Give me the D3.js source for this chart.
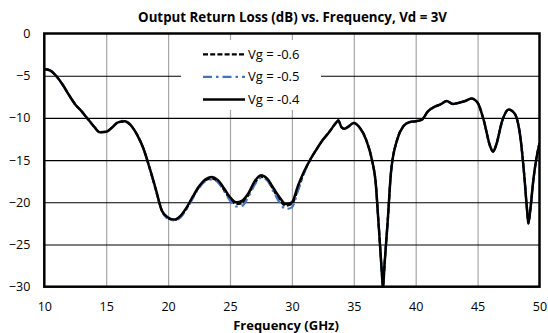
<!DOCTYPE html>
<html>
<head>
<meta charset="utf-8">
<script src="https://cdn.jsdelivr.net/npm/d3@7"></script>
<style>
body { margin: 0; background: #fff; }
text { font-family: "Open Sans", "Liberation Sans", sans-serif; fill: #000; }
</style>
</head>
<body>
<div id="canvas"></div>
<script>
// frequency points (GHz)
const freq = [10, 10.5, 11, 11.5, 12, 12.5, 13, 13.5, 14, 14.5, 15, 15.5, 16, 16.5, 17, 17.5, 18, 18.5, 19, 19.5,
    20, 20.5, 21, 21.5, 22, 22.5, 23, 23.5, 24, 24.5, 25, 25.5, 26, 26.5, 27, 27.5, 28, 28.5, 29, 29.5,
    30, 30.5, 31, 31.5, 32, 32.5, 33, 33.5, 33.75, 34, 34.25, 34.5, 35, 35.5, 36, 36.5, 36.75, 37, 37.25, 37.35,
    37.5, 37.75, 38, 38.5, 39, 39.5, 40, 40.5, 41, 41.5, 42, 42.5, 43, 43.5, 44, 44.5, 45, 45.5, 46, 46.25,
    46.5, 47, 47.5, 48, 48.5, 48.75, 49, 49.1, 49.25, 49.5, 49.75, 50];

// Vg = -0.6
const vg06 = [-4.2, -4.4, -5.1, -6.1, -7.3, -8.4, -9.2, -10.1, -11.0, -11.7, -11.65, -11.1, -10.5, -10.45, -10.9, -12.0, -13.6, -15.9, -18.5, -21.0,
    -21.9, -22.1, -21.7, -20.7, -19.4, -18.2, -17.4, -17.2, -17.5, -18.5, -19.6, -20.2, -20.1, -19.1, -17.7, -17.0, -17.3, -18.5, -19.7, -20.4,
    -20.2, -18.4, -16.4, -14.9, -13.7, -12.6, -11.7, -10.7, -10.3, -11.1, -11.3, -11.1, -10.6, -11.2, -12.6, -15.2, -17.4, -22.5, -28.0, -30.0,
    -27.0, -22.0, -16.5, -12.6, -11.0, -10.5, -10.4, -10.2, -9.2, -8.7, -8.4, -8.0, -8.35, -8.2, -8.0, -7.7, -8.2, -10.3, -13.3, -14.0,
    -13.2, -10.3, -9.0, -9.5, -12.8, -16.5, -21.0, -22.5, -21.0, -17.4, -14.8, -13.0];

// Vg = -0.5
const vg05 = [-4.2, -4.4, -5.1, -6.1, -7.3, -8.4, -9.2, -10.1, -11.0, -11.7, -11.65, -11.1, -10.45, -10.35, -10.85, -12.0, -13.6, -15.9, -18.5, -21.0,
    -21.95, -22.15, -21.8, -20.8, -19.5, -18.3, -17.5, -17.3, -17.6, -18.6, -19.8, -20.5, -20.4, -19.3, -17.9, -17.1, -17.4, -18.7, -20.0, -20.8,
    -20.6, -18.6, -16.5, -14.9, -13.7, -12.6, -11.7, -10.7, -10.3, -11.1, -11.3, -11.1, -10.6, -11.2, -12.6, -15.2, -17.4, -22.5, -28.0, -30.0,
    -27.0, -22.0, -16.5, -12.6, -11.0, -10.5, -10.4, -10.2, -9.2, -8.7, -8.4, -8.0, -8.35, -8.2, -8.0, -7.7, -8.2, -10.3, -13.3, -14.0,
    -13.2, -10.3, -9.0, -9.5, -12.8, -16.5, -21.0, -22.5, -21.0, -17.4, -14.8, -13.0];

// Vg = -0.4
const vg04 = [-4.2, -4.4, -5.1, -6.1, -7.3, -8.4, -9.2, -10.1, -11.0, -11.7, -11.65, -11.1, -10.5, -10.4, -10.9, -12.0, -13.6, -15.9, -18.4, -21.0,
    -21.8, -22.05, -21.6, -20.6, -19.3, -18.1, -17.3, -17.0, -17.35, -18.3, -19.4, -20.0, -19.8, -18.9, -17.5, -16.8, -17.2, -18.3, -19.4, -20.2,
    -20.0, -18.0, -16.3, -14.9, -13.7, -12.6, -11.7, -10.7, -10.3, -11.1, -11.3, -11.1, -10.6, -11.2, -12.6, -15.2, -17.4, -22.5, -28.0, -30.0,
    -27.0, -22.0, -16.5, -12.6, -11.0, -10.5, -10.4, -10.2, -9.2, -8.7, -8.4, -8.0, -8.35, -8.2, -8.0, -7.7, -8.2, -10.3, -13.3, -14.0,
    -13.2, -10.3, -9.0, -9.5, -12.8, -16.5, -21.0, -22.5, -21.0, -17.4, -14.8, -13.0];

const xTicks = [10, 15, 20, 25, 30, 35, 40, 45, 50];
const yTicks = [0, -5, -10, -15, -20, -25, -30];
const seriesNames = ["Vg = -0.6", "Vg = -0.5", "Vg = -0.4"];

const width = 548;
const height = 333;
const margin = { top: 33.5, left: 44.3, bottom: 46.3, right: 8.5 };
const iwidth = width - margin.left - margin.right;
const iheight = height - margin.top - margin.bottom;

const svg = d3.select("#canvas").append("svg")
    .attr("width", width)
    .attr("height", height);

const g = svg.append("g").attr("transform", `translate(${margin.left},${margin.top})`);

const x = d3.scaleLinear().domain([10, 50]).range([0, iwidth]);
const y = d3.scaleLinear().domain([-30, 0]).range([iheight, 0]);

// grid
g.append("g")
    .call(d3.axisBottom(x).tickValues(xTicks.slice(1, -1)).tickSize(-iheight).tickFormat(""))
    .attr("transform", `translate(0,${iheight})`)
    .call(a => a.select(".domain").remove())
    .selectAll("line").attr("stroke", "#a6a6a6").attr("stroke-width", 1.2);

g.append("g")
    .call(d3.axisLeft(y).tickValues(yTicks.slice(1, -1)).tickSize(-iwidth).tickFormat(""))
    .call(a => a.select(".domain").remove())
    .selectAll("line").attr("stroke", "#000").attr("stroke-width", 1.1);

// tick labels
g.append("g")
    .call(d3.axisBottom(x).tickValues(xTicks).tickSize(0).tickPadding(15.5))
    .attr("transform", `translate(0,${iheight})`)
    .call(a => a.select(".domain").remove())
    .selectAll("text").style("font-size", "12.5px").style("font-family", null);

g.append("g")
    .call(d3.axisLeft(y).tickValues(yTicks).tickSize(0).tickPadding(14))
    .call(a => a.select(".domain").remove())
    .selectAll("text")
    .style("font-size", "12.5px").style("font-family", null);

// legend box (covers grid)
const legend = g.append("g").attr("transform", `translate(${181 - margin.left},${40 - margin.top})`);
legend.append("rect")
    .attr("width", 140).attr("height", 70)
    .attr("fill", "#fff");

svg.append("clipPath").attr("id", "clip")
    .append("rect").attr("width", iwidth).attr("height", iheight + 1);

const line = d3.line()
    .x((d, i) => x(freq[i]))
    .y(d => y(d))
    .curve(d3.curveMonotoneX);

const styles = [
    { values: vg06, color: "#000", dash: "5,2.2", w: 2.2 },
    { values: vg05, color: "#4472c4", dash: "9,4,2.5,4", w: 2.2 },
    { values: vg04, color: "#000", dash: null, w: 2.5 }
];

g.append("g").attr("clip-path", "url(#clip)")
    .selectAll("path").data(styles).enter().append("path")
    .attr("d", d => line(d.values))
    .attr("fill", "none")
    .attr("stroke", d => d.color)
    .attr("stroke-width", d => d.w)
    .attr("stroke-dasharray", d => d.dash)
    .attr("stroke-linejoin", "round");

// plot border
g.append("rect")
    .attr("width", iwidth).attr("height", iheight)
    .attr("fill", "none").attr("stroke", "#000").attr("stroke-width", 2.5);

// legend entries
styles.forEach((s, i) => {
    const ly = 14.3 + i * 22.6;
    legend.append("line")
        .attr("x1", 22).attr("x2", 64)
        .attr("y1", ly).attr("y2", ly)
        .attr("stroke", s.color)
        .attr("stroke-width", s.w)
        .attr("stroke-dasharray", s.dash);
    legend.append("text")
        .attr("x", 67).attr("y", ly)
        .attr("dy", "0.35em")
        .style("font-size", "13px")
        .text(seriesNames[i]);
});

// titles
svg.append("text")
    .attr("x", 292.5).attr("y", 21.5)
    .attr("text-anchor", "middle")
    .style("font-size", "13.3px").style("font-weight", "bold")
    .text("Output Return Loss (dB) vs. Frequency, Vd = 3V");

svg.append("text")
    .attr("x", 286).attr("y", 329.5)
    .attr("text-anchor", "middle")
    .style("font-size", "13px").style("font-weight", "bold")
    .text("Frequency (GHz)");
</script>
</body>
</html>
